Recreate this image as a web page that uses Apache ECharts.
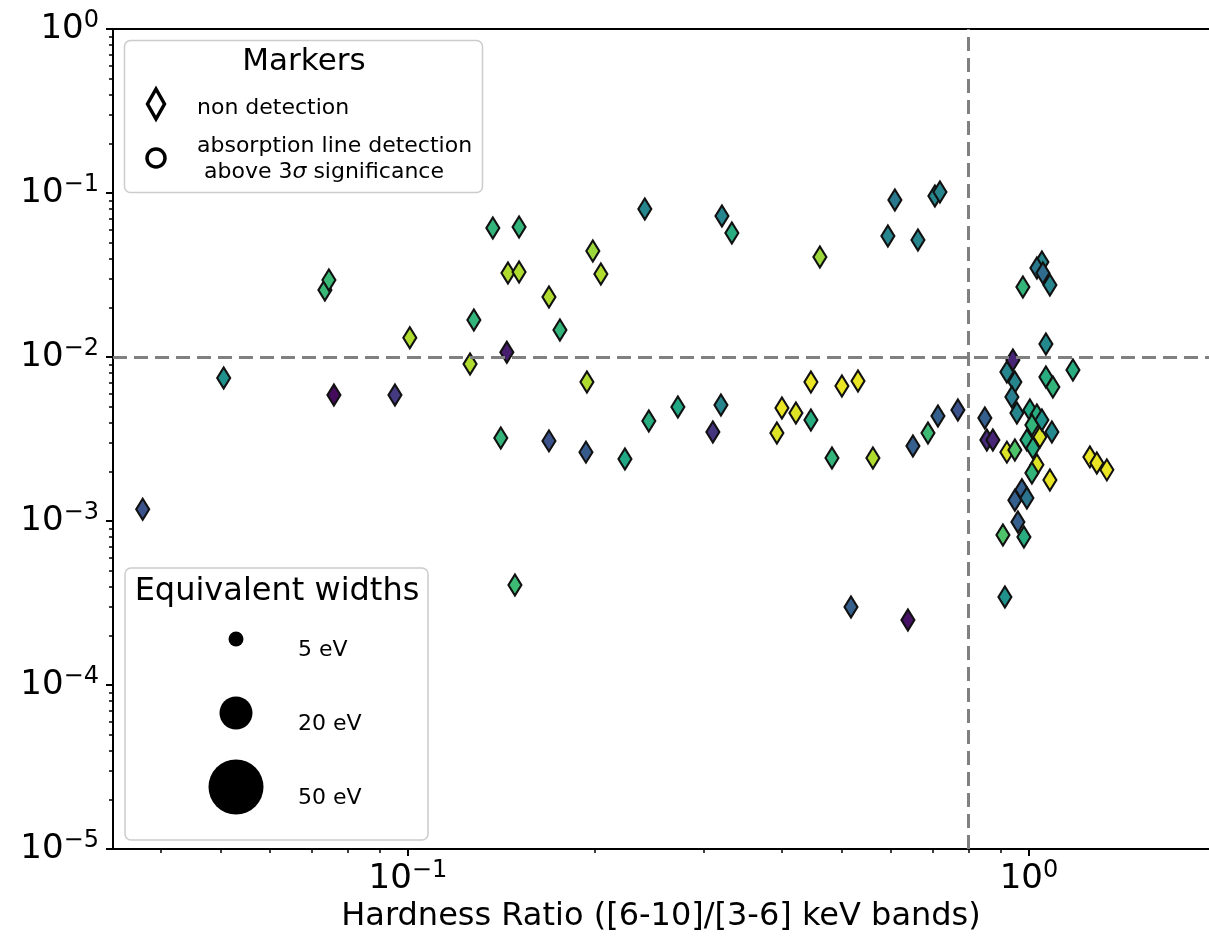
<!DOCTYPE html>
<html>
<head>
<meta charset="utf-8">
<script src="https://cdn.jsdelivr.net/npm/echarts@6/dist/echarts.min.js"></script>
<style>
  html, body { margin: 0; padding: 0; background: #ffffff; }
  #chart { width: 1209px; height: 939px; }
</style>
</head>
<body>
<div id="chart"></div>
<script>
// Hardness ratio ([6-10]/[3-6] keV) of each source
const hardness = [
  0.0374, 0.0505, 0.0735, 0.0746, 0.0760, 0.0953, 0.1007, 0.1259, 0.1277, 0.1370,
  0.1443, 0.1411, 0.1449, 0.1510, 0.1510, 0.1487, 0.1687, 0.1687, 0.1757, 0.1942,
  0.1935, 0.1985, 0.2045, 0.2236, 0.2407, 0.2443, 0.2721, 0.3098, 0.3192, 0.3204,
  0.3324, 0.3928, 0.4002, 0.4215, 0.4456, 0.4456, 0.4607, 0.4818, 0.4999, 0.5306,
  0.5170, 0.5608, 0.5928, 0.6084, 0.6385, 0.6505, 0.6627, 0.6878, 0.7057, 0.7190,
  0.7137, 0.7685,
  1.0494, 1.0301, 1.0532, 0.9780, 1.0810, 1.0651, 0.9424, 0.9216, 0.9494, 0.9389,
  1.0651, 1.0930, 1.1774, 0.8493, 0.9565, 1.0416, 1.0037, 1.0301, 1.0112, 1.0494,
  1.0890, 0.8556, 0.8750, 0.9926, 1.0149, 0.9216, 0.9494, 1.0301, 1.0112, 1.0810,
  1.2538, 1.2865, 1.3352, 0.9744, 0.9494, 0.9926, 0.9600, 0.9082, 0.9817, 0.9149
];

// Vertical-axis value of each source
const yValues = [
  1.18e-3, 7.45e-3, 0.0256, 0.0295, 5.87e-3, 5.87e-3, 0.0131, 9.06e-3, 0.0168, 0.0612,
  0.0107, 3.21e-3, 0.0325, 0.0330, 0.0620, 4.07e-4, 0.0232, 3.08e-3, 0.0146, 7.04e-3,
  2.63e-3, 0.0443, 0.0321, 2.39e-3, 0.0799, 4.07e-3, 4.96e-3, 3.49e-3, 5.10e-3, 0.0724,
  0.0570, 3.44e-3, 4.89e-3, 4.56e-3, 4.13e-3, 7.04e-3, 0.0407, 2.42e-3, 6.65e-3, 7.14e-3,
  2.99e-4, 2.42e-3, 0.0547, 0.0907, 2.49e-4, 2.87e-3, 0.0517, 3.44e-3, 0.0959, 0.1014,
  4.37e-3, 4.75e-3,
  0.0380, 0.0349, 0.0325, 0.0267, 0.0275, 0.0120, 9.59e-3, 8.10e-3, 7.04e-3, 5.70e-3,
  7.55e-3, 6.56e-3, 8.33e-3, 4.25e-3, 4.56e-3, 3.25e-3, 4.75e-3, 4.43e-3, 3.85e-3, 4.13e-3,
  3.49e-3, 3.12e-3, 3.12e-3, 3.12e-3, 2.79e-3, 2.63e-3, 2.71e-3, 2.20e-3, 1.96e-3, 1.78e-3,
  2.46e-3, 2.26e-3, 2.05e-3, 1.55e-3, 1.34e-3, 1.38e-3, 9.86e-4, 8.21e-4, 7.99e-4, 3.44e-4
];

// Colour-coded quantity of each source (0 = low, 1 = high)
const colourValues = [
  0.25, 0.50, 0.67, 0.67, 0.03, 0.17, 0.88, 0.88, 0.65, 0.65,
  0.08, 0.65, 0.88, 0.88, 0.65, 0.68, 0.88, 0.25, 0.65, 0.88,
  0.28, 0.85, 0.88, 0.60, 0.45, 0.62, 0.60, 0.15, 0.45, 0.45,
  0.62, 0.95, 0.97, 0.95, 0.62, 0.97, 0.85, 0.65, 0.97, 0.97,
  0.30, 0.88, 0.45, 0.40, 0.05, 0.30, 0.45, 0.68, 0.45, 0.45,
  0.30, 0.25,
  0.45, 0.40, 0.35, 0.65, 0.45, 0.47, 0.10, 0.45, 0.45, 0.42,
  0.62, 0.65, 0.62, 0.30, 0.45, 0.95, 0.60, 0.62, 0.65, 0.50,
  0.47, 0.12, 0.10, 0.62, 0.62, 0.95, 0.72, 0.95, 0.65, 0.97,
  0.97, 0.97, 0.97, 0.30, 0.30, 0.38, 0.30, 0.72, 0.62, 0.50
];

// Threshold lines
const hardnessCut = 0.8;
const yCut = 0.01;

// Axis ranges and decade ticks
const xRange = [0.0335, 1.95];
const yRange = [1e-5, 1];
const xMajorTicks = [0.1, 1];
const yMajorTicks = [1e-5, 1e-4, 1e-3, 1e-2, 1e-1, 1];

// Legend texts
const markerTitle = 'Markers';
const markerLabels = ['non detection', 'absorption line detection', ' above 3', 'σ', ' significance'];
const widthTitle = 'Equivalent widths';
const widthLabels = ['5 eV', '20 eV', '50 eV'];

const FONT = 'DejaVu Sans';
const viridis = ['#440154', '#482475', '#414487', '#355f8d', '#2a788e', '#21918c',
                 '#22a884', '#44bf70', '#7ad151', '#bddf26', '#fde725'];

const points = hardness.map((h, i) => [h, yValues[i], colourValues[i]]);

// 2..9 x 10^n positions inside a range, for the short log ticks
function minorLogTicks(range) {
  const out = [];
  const lo = Math.floor(Math.log10(range[0]));
  const hi = Math.ceil(Math.log10(range[1]));
  for (let d = lo; d <= hi; d++) {
    for (let m = 2; m <= 9; m++) {
      const v = m * Math.pow(10, d);
      if (v >= range[0] && v <= range[1]) out.push(v);
    }
  }
  return out;
}

function powerLabel(v) {
  const e = Math.log10(v);
  const r = Math.round(e);
  if (Math.abs(e - r) > 1e-6) return '';
  const exp = r < 0 ? '\u2212' + (-r) : String(r);
  return '{b|10}{s|' + exp + '}';
}

const labelRich = {
  b: { fontFamily: FONT, fontSize: 34, color: '#000', lineHeight: 40 },
  s: { fontFamily: FONT, fontSize: 24, color: '#000', verticalAlign: 'top', lineHeight: 26 }
};

const axisLineStyle = { show: true, lineStyle: { color: '#000', width: 2 } };
const hidden = { show: false };

const chart = echarts.init(document.getElementById('chart'), null, { renderer: 'canvas' });

const option = {
  animation: false,
  backgroundColor: '#ffffff',
  grid: { left: 113, top: 29, right: 0, bottom: 90, containLabel: false },
  xAxis: [{
    type: 'log', logBase: 10, min: xRange[0], max: xRange[1],
    position: 'bottom',
    name: 'Hardness Ratio ([6-10]/[3-6] keV bands)',
    nameLocation: 'middle', nameGap: 50,
    nameTextStyle: { fontFamily: FONT, fontSize: 32, color: '#000' },
    axisLine: axisLineStyle,
    axisTick: { show: true, inside: false, length: 7, customValues: xMajorTicks, lineStyle: { color: '#000', width: 2 } },
    axisLabel: { show: true, margin: 10, customValues: xMajorTicks, formatter: powerLabel, rich: labelRich },
    splitLine: hidden
  }, {
    // short ticks between decades
    type: 'log', logBase: 10, min: xRange[0], max: xRange[1],
    position: 'bottom',
    axisLine: hidden,
    axisTick: { show: true, inside: false, length: 4, customValues: minorLogTicks(xRange), lineStyle: { color: '#000', width: 1.5 } },
    axisLabel: hidden, splitLine: hidden
  }, {
    // top frame line
    type: 'log', logBase: 10, min: xRange[0], max: xRange[1],
    position: 'top',
    axisLine: axisLineStyle, axisTick: hidden, axisLabel: hidden, splitLine: hidden
  }],
  yAxis: [{
    type: 'log', logBase: 10, min: yRange[0], max: yRange[1],
    position: 'left',
    axisLine: axisLineStyle,
    axisTick: { show: true, inside: false, length: 7, customValues: yMajorTicks, lineStyle: { color: '#000', width: 2 } },
    axisLabel: { show: true, margin: 14, customValues: yMajorTicks, formatter: powerLabel, rich: labelRich },
    splitLine: hidden
  }, {
    type: 'log', logBase: 10, min: yRange[0], max: yRange[1],
    position: 'left',
    axisLine: hidden,
    axisTick: { show: true, inside: false, length: 4, customValues: minorLogTicks(yRange), lineStyle: { color: '#000', width: 1.5 } },
    axisLabel: hidden, splitLine: hidden
  }],
  visualMap: {
    show: false, type: 'continuous', dimension: 2, min: 0, max: 1,
    seriesIndex: 1, inRange: { color: viridis }
  },
  series: [{
    // dashed threshold lines, kept beneath the markers
    type: 'line', data: [], z: 1, silent: true,
    markLine: {
      silent: true, symbol: 'none', animation: false,
      label: { show: false },
      lineStyle: { color: '#808080', width: 3, type: [14, 7] },
      data: [{ yAxis: yCut }, { xAxis: hardnessCut }]
    }
  }, {
    type: 'scatter', z: 3,
    data: points,
    symbol: 'diamond', symbolSize: [13, 21],
    itemStyle: { borderColor: '#111', borderWidth: 2.2, opacity: 1 }
  }],
  graphic: [
    {
      type: 'group', z: 100,
      children: [
        { type: 'rect', shape: { x: 124.5, y: 40.5, width: 358, height: 152, r: 6 },
          style: { fill: 'rgba(255,255,255,0.85)', stroke: '#cccccc', lineWidth: 1.5 } },
        { type: 'text', x: 304, y: 62, style: { text: markerTitle, font: '31px "DejaVu Sans"', fill: '#000', textAlign: 'center', textVerticalAlign: 'middle' } },
        { type: 'polygon', shape: { points: [[156, 89], [164.5, 104], [156, 119], [147.5, 104]] },
          style: { fill: '#fff', stroke: '#000', lineWidth: 3.5 } },
        { type: 'text', x: 197, y: 108, style: { text: markerLabels[0], font: '22px "DejaVu Sans"', fill: '#000', textVerticalAlign: 'middle' } },
        { type: 'circle', shape: { cx: 156, cy: 158, r: 9 },
          style: { fill: '#fff', stroke: '#000', lineWidth: 3.5 } },
        { type: 'text', x: 197, y: 146, style: { text: markerLabels[1], font: '22px "DejaVu Sans"', fill: '#000', textVerticalAlign: 'middle' } },
        { type: 'text', x: 197, y: 172, style: {
            text: '{n|' + markerLabels[2] + '}{i|' + markerLabels[3] + '}{n|' + markerLabels[4] + '}',
            textVerticalAlign: 'middle',
            rich: {
              n: { fontFamily: FONT, fontSize: 22, fill: '#000' },
              i: { fontFamily: FONT, fontSize: 22, fontStyle: 'italic', fill: '#000' }
            } } }
      ]
    },
    {
      type: 'group', z: 100,
      children: [
        { type: 'rect', shape: { x: 125, y: 568, width: 303, height: 272, r: 6 },
          style: { fill: 'rgba(255,255,255,0.85)', stroke: '#cccccc', lineWidth: 1.5 } },
        { type: 'text', x: 277, y: 592, style: { text: widthTitle, font: '32px "DejaVu Sans"', fill: '#000', textAlign: 'center', textVerticalAlign: 'middle' } },
        { type: 'circle', shape: { cx: 236, cy: 639, r: 7.5 }, style: { fill: '#000' } },
        { type: 'circle', shape: { cx: 236, cy: 713, r: 16.5 }, style: { fill: '#000' } },
        { type: 'circle', shape: { cx: 236, cy: 787, r: 27.5 }, style: { fill: '#000' } },
        { type: 'text', x: 298, y: 650, style: { text: widthLabels[0], font: '22px "DejaVu Sans"', fill: '#000', textVerticalAlign: 'middle' } },
        { type: 'text', x: 298, y: 724, style: { text: widthLabels[1], font: '22px "DejaVu Sans"', fill: '#000', textVerticalAlign: 'middle' } },
        { type: 'text', x: 298, y: 798, style: { text: widthLabels[2], font: '22px "DejaVu Sans"', fill: '#000', textVerticalAlign: 'middle' } }
      ]
    }
  ]
};

chart.setOption(option);
</script>
</body>
</html>
